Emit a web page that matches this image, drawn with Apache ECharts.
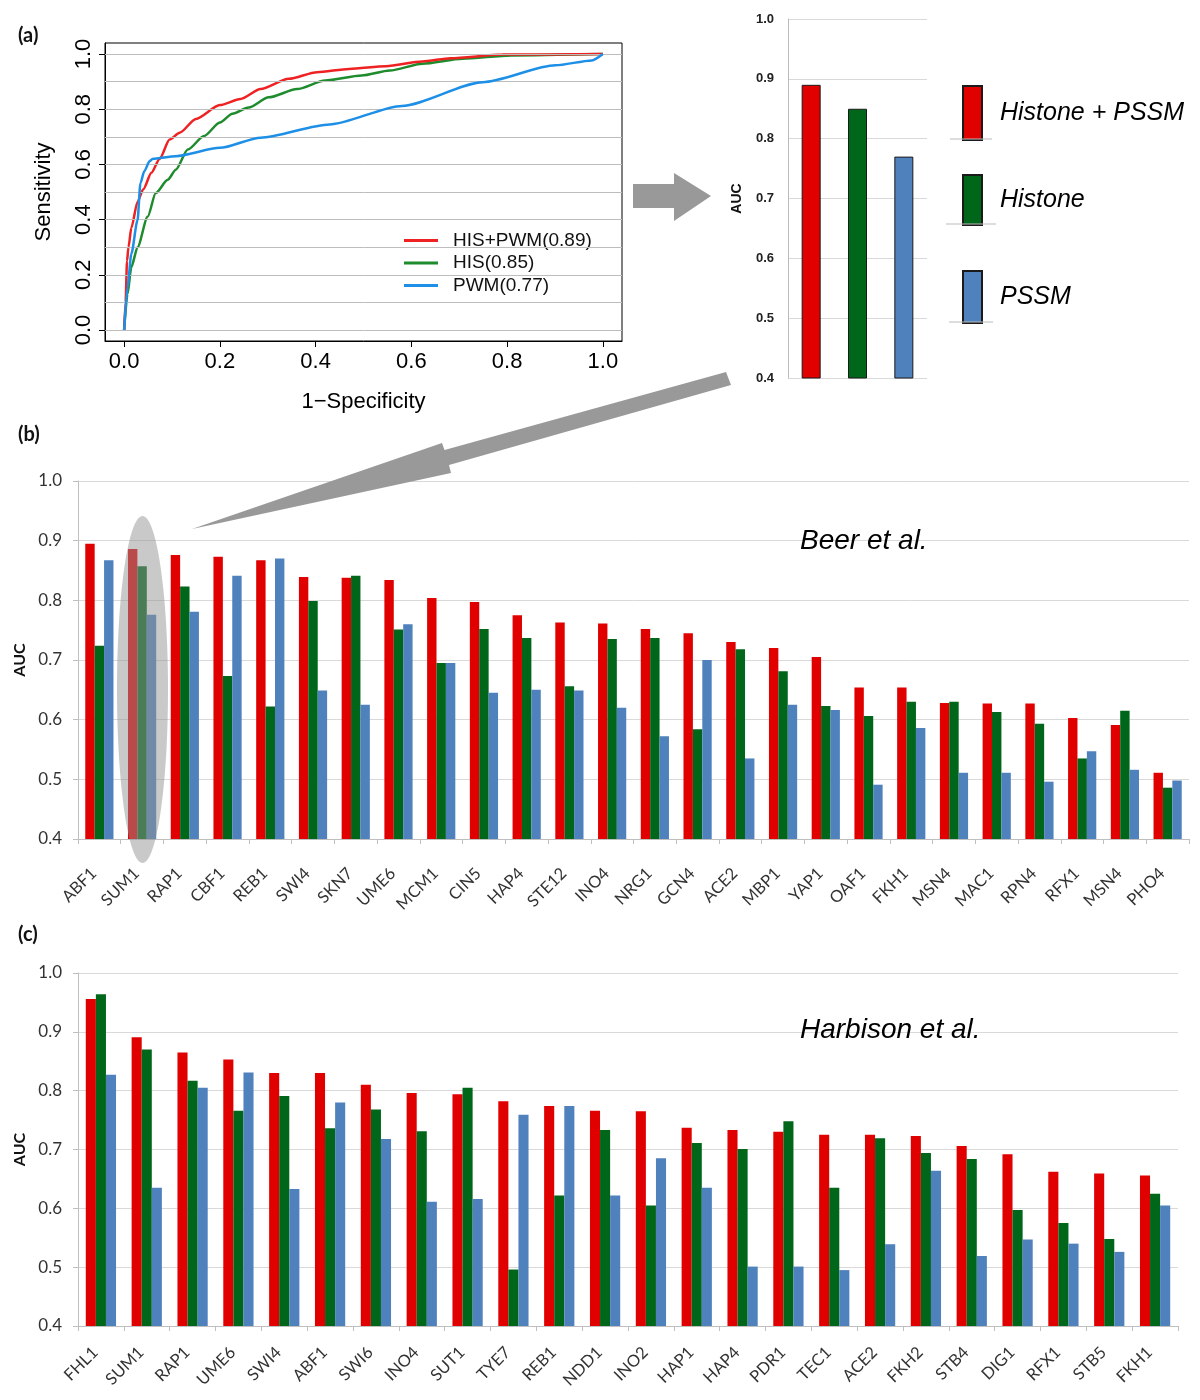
<!DOCTYPE html>
<html><head><meta charset="utf-8">
<script src="https://cdn.jsdelivr.net/npm/echarts@6/dist/echarts.min.js"></script>
<style>html,body{margin:0;padding:0;background:#fff}#c{width:1200px;height:1400px}</style>
</head><body><div id="c"></div>
<script>
// ---------- Panel (a) ROC curves ----------
const rocHisPwm = [[0,0],[0.003,0.1],[0.006,0.25],[0.009,0.3],[0.015,0.37],[0.028,0.465],[0.04,0.51],[0.057,0.57],[0.074,0.62],[0.095,0.69],[0.116,0.715],[0.15,0.765],[0.2,0.815],[0.243,0.837],[0.285,0.873],[0.344,0.91],[0.403,0.934],[0.47,0.946],[0.547,0.956],[0.623,0.973],[0.682,0.985],[0.79,0.998],[1,1]];
const rocHis = [[0,0],[0.007,0.13],[0.015,0.228],[0.028,0.3],[0.049,0.41],[0.066,0.496],[0.091,0.544],[0.108,0.581],[0.133,0.654],[0.167,0.703],[0.2,0.752],[0.226,0.784],[0.26,0.806],[0.302,0.843],[0.361,0.873],[0.42,0.904],[0.496,0.922],[0.555,0.94],[0.623,0.965],[0.707,0.983],[0.808,0.995],[1,1]];
const rocPwm = [[0,0],[0.007,0.155],[0.015,0.276],[0.028,0.398],[0.034,0.532],[0.042,0.575],[0.053,0.611],[0.059,0.62],[0.108,0.63],[0.2,0.66],[0.285,0.697],[0.429,0.745],[0.58,0.812],[0.749,0.898],[0.901,0.959],[0.977,0.977],[1,1]];
const rocNames = ['HIS+PWM(0.89)', 'HIS(0.85)', 'PWM(0.77)'];
const rocTicks = [0, 0.2, 0.4, 0.6, 0.8, 1.0];
const rocGridLines = [0, 0.1, 0.2, 0.3, 0.4, 0.5, 0.6, 0.7, 0.8, 0.9, 1.0];

// ---------- Panel (a) summary AUC bars ----------
const summaryNames = ['Histone + PSSM', 'Histone', 'PSSM'];
const summaryAuc = [0.89, 0.85, 0.77];

// ---------- Panel (b) Beer et al. ----------
const beerCats = ['ABF1','SUM1','RAP1','CBF1','REB1','SWI4','SKN7','UME6','MCM1','CIN5','HAP4','STE12','INO4','NRG1','GCN4','ACE2','MBP1','YAP1','OAF1','FKH1','MSN4','MAC1','RPN4','RFX1','MSN4','PHO4'];
const beerHisPssm = [0.895,0.886,0.876,0.873,0.867,0.839,0.838,0.834,0.804,0.797,0.775,0.763,0.761,0.752,0.745,0.730,0.720,0.705,0.654,0.654,0.628,0.627,0.627,0.603,0.591,0.511];
const beerHis     = [0.724,0.857,0.823,0.673,0.622,0.799,0.841,0.751,0.695,0.752,0.737,0.656,0.735,0.737,0.584,0.718,0.681,0.623,0.606,0.630,0.630,0.613,0.593,0.535,0.615,0.486];
const beerPssm    = [0.867,0.776,0.781,0.841,0.870,0.649,0.625,0.760,0.695,0.645,0.650,0.649,0.620,0.572,0.700,0.535,0.625,0.616,0.491,0.586,0.511,0.511,0.496,0.547,0.516,0.498];

// ---------- Panel (c) Harbison et al. ----------
const harbCats = ['FHL1','SUM1','RAP1','UME6','SWI4','ABF1','SWI6','INO4','SUT1','TYE7','REB1','NDD1','INO2','HAP1','HAP4','PDR1','TEC1','ACE2','FKH2','STB4','DIG1','RFX1','STB5','FKH1'];
const harbHisPssm = [0.956,0.891,0.865,0.853,0.830,0.830,0.810,0.796,0.794,0.782,0.774,0.766,0.765,0.737,0.733,0.730,0.725,0.725,0.723,0.706,0.692,0.662,0.659,0.656];
const harbHis     = [0.964,0.870,0.817,0.766,0.791,0.736,0.768,0.731,0.805,0.496,0.622,0.733,0.605,0.711,0.701,0.748,0.635,0.719,0.694,0.684,0.597,0.575,0.548,0.625];
const harbPssm    = [0.827,0.635,0.805,0.831,0.633,0.780,0.718,0.611,0.616,0.759,0.774,0.622,0.685,0.635,0.501,0.501,0.495,0.539,0.664,0.519,0.547,0.540,0.526,0.605];

const aucTicks = {min: 0.4, max: 1.0, interval: 0.1};

const RED = '#E00000', GREEN = '#00661A', BLUE = '#4F81BD';
const ROC_RED = '#EE2222', ROC_GREEN = '#1E8C2C', ROC_BLUE = '#1E8FE6';
const SANS = '"Liberation Sans", Arial, sans-serif';
const XL = 'Lato, "Open Sans", sans-serif';

const chart = echarts.init(document.getElementById('c'), null, {renderer: 'canvas'});

function excelX(gridIndex, cats, margin) {
  return {
    type: 'category', gridIndex, data: cats,
    axisLine: {show: true, lineStyle: {color: '#BFBFBF'}},
    axisTick: {show: true, length: 5, lineStyle: {color: '#BFBFBF'}},
    axisLabel: {interval: 0, rotate: 45, fontSize: 16.5, color: '#333', fontFamily: XL, margin, padding: [0, 8, 0, 0]},
    splitLine: {show: false}
  };
}
function excelY(gridIndex, nameGap) {
  return {
    type: 'value', gridIndex, min: aucTicks.min, max: aucTicks.max, interval: aucTicks.interval,
    name: 'AUC', nameLocation: 'middle', nameGap,
    nameTextStyle: {fontFamily: XL, fontWeight: 'bold', fontSize: 16, color: '#111'},
    axisLine: {show: true, lineStyle: {color: '#BFBFBF'}},
    axisTick: {show: true, length: 5, lineStyle: {color: '#BFBFBF'}},
    axisLabel: {fontSize: 17, color: '#333', fontFamily: XL, margin: 16, formatter: v => v.toFixed(1)},
    splitLine: {show: true, lineStyle: {color: '#D9D9D9', width: 1}}
  };
}
function barSeries(name, data, color, xi, yi) {
  return {
    type: 'bar', name, data, xAxisIndex: xi, yAxisIndex: yi,
    barGap: 0, barCategoryGap: '34%',
    itemStyle: {color}, emphasis: {disabled: true}
  };
}

const summarySeries = summaryNames.map((n, k) => ({
  type: 'bar', name: n, xAxisIndex: 1, yAxisIndex: 1,
  data: summaryAuc.map((v, i) => i === k ? v : '-'),
  barWidth: 19, barGap: '-100%',
  itemStyle: {color: [RED, GREEN, BLUE][k], borderColor: '#1a1a1a', borderWidth: 1},
  emphasis: {disabled: true}
}));

function summaryLegend(name, top, h) {
  return {
    data: [name], left: 962, top, orient: 'vertical', padding: 0,
    itemWidth: 19, itemHeight: h, icon: 'rect', selectedMode: false,
    textStyle: {fontSize: 25, fontStyle: 'italic', fontFamily: SANS, color: '#000', padding: [0, 0, 0, 13]}
  };
}

function rocLine(name, data, color, z) {
  return {type: 'line', name, data, xAxisIndex: 0, yAxisIndex: 0, showSymbol: false, symbol: 'none',
    smooth: 0.25, smoothMonotone: 'x',
    lineStyle: {color, width: 2.5}, itemStyle: {color}, z, emphasis: {disabled: true}};
}

const option = {
  animation: false,
  backgroundColor: '#fff',
  grid: [
    {left: 105, top: 43, width: 517, height: 298, show: true, borderColor: '#000', borderWidth: 1, backgroundColor: 'transparent'},
    {left: 788, top: 19, width: 139, height: 359},
    {left: 78, top: 481, width: 1111, height: 358},
    {left: 78, top: 973, width: 1100, height: 353}
  ],
  legend: [
    {data: rocNames, left: 404, top: 231, orient: 'vertical', padding: 0, itemGap: 3.5,
     itemWidth: 34, itemHeight: 3, icon: 'rect', selectedMode: false,
     textStyle: {fontSize: 19, fontFamily: SANS, color: '#111', padding: [0, 0, 0, 10]}},
    summaryLegend(summaryNames[0], 85, 54),
    summaryLegend(summaryNames[1], 174, 50),
    summaryLegend(summaryNames[2], 270, 52)
  ],
  xAxis: [
    {type: 'value', gridIndex: 0, min: -0.04, max: 1.04,
     name: '1\u2212Specificity', nameLocation: 'middle', nameGap: 50,
     nameTextStyle: {fontFamily: SANS, fontSize: 22, color: '#000'},
     axisLine: {show: true, onZero: false, lineStyle: {color: '#000'}},
     axisTick: {show: true, customValues: rocTicks, length: 6, lineStyle: {color: '#000'}},
     axisLabel: {customValues: rocTicks, fontFamily: SANS, fontSize: 22, color: '#000', margin: 10, formatter: v => v.toFixed(1)},
     splitLine: {show: false}},
    {type: 'category', gridIndex: 1, data: summaryNames,
     axisLine: {show: false}, axisTick: {show: false}, axisLabel: {show: false}, splitLine: {show: false}},
    excelX(2, beerCats, 26),
    excelX(3, harbCats, 18)
  ],
  yAxis: [
    {type: 'value', gridIndex: 0, min: -0.04, max: 1.04,
     name: 'Sensitivity', nameLocation: 'middle', nameGap: 50,
     nameTextStyle: {fontFamily: SANS, fontSize: 22, color: '#000'},
     axisLine: {show: true, onZero: false, lineStyle: {color: '#000'}},
     axisTick: {show: true, customValues: rocTicks, length: 6, lineStyle: {color: '#000'}},
     axisLabel: {customValues: rocTicks, rotate: 90, fontFamily: SANS, fontSize: 22, color: '#000', margin: 10, formatter: v => v.toFixed(1)},
     splitLine: {show: false}},
    {type: 'value', gridIndex: 1, min: aucTicks.min, max: aucTicks.max, interval: aucTicks.interval,
     name: 'AUC', nameLocation: 'middle', nameGap: 44,
     nameTextStyle: {fontFamily: SANS, fontWeight: 'bold', fontSize: 14, color: '#111'},
     axisLine: {show: true, lineStyle: {color: '#BBBBBB'}},
     axisTick: {show: false},
     axisLabel: {fontFamily: SANS, fontWeight: 'bold', fontSize: 13, color: '#222', margin: 14, formatter: v => v.toFixed(1)},
     splitLine: {show: true, lineStyle: {color: '#D9D9D9'}}},
    excelY(2, 50),
    excelY(3, 46)
  ],
  series: [
    {type: 'line', name: 'gridlines', xAxisIndex: 0, yAxisIndex: 0, data: [], z: 1, silent: true,
     markLine: {silent: true, symbol: ['none', 'none'], label: {show: false},
       lineStyle: {color: '#BDBDBD', type: 'solid', width: 1},
       data: rocGridLines.map(v => ({yAxis: v}))}},
    rocLine(rocNames[0], rocHisPwm, ROC_RED, 4),
    rocLine(rocNames[1], rocHis, ROC_GREEN, 3),
    rocLine(rocNames[2], rocPwm, ROC_BLUE, 5),
    ...summarySeries,
    barSeries('Beer Histone + PSSM', beerHisPssm, RED, 2, 2),
    barSeries('Beer Histone', beerHis, GREEN, 2, 2),
    barSeries('Beer PSSM', beerPssm, BLUE, 2, 2),
    barSeries('Harbison Histone + PSSM', harbHisPssm, RED, 3, 3),
    barSeries('Harbison Histone', harbHis, GREEN, 3, 3),
    barSeries('Harbison PSSM', harbPssm, BLUE, 3, 3)
  ],
  graphic: [
    {type: 'text', z: 100, style: {text: '(a)', x: 18, y: 36, font: 'bold 20px Lato', fill: '#111', verticalAlign: 'middle'}},
    {type: 'text', z: 100, style: {text: '(b)', x: 18, y: 435, font: 'bold 20px Lato', fill: '#111', verticalAlign: 'middle'}},
    {type: 'text', z: 100, style: {text: '(c)', x: 18, y: 935, font: 'bold 20px Lato', fill: '#111', verticalAlign: 'middle'}},
    {type: 'text', z: 100, style: {text: 'Beer et al.', x: 800, y: 541, font: 'italic 28px "Liberation Sans"', fill: '#000', verticalAlign: 'middle'}},
    {type: 'text', z: 100, style: {text: 'Harbison et al.', x: 800, y: 1030, font: 'italic 28px "Liberation Sans"', fill: '#000', verticalAlign: 'middle'}},
    {type: 'line', z: 100, shape: {x1: 950, y1: 139, x2: 992, y2: 139}, style: {stroke: '#BBBBBB', lineWidth: 1}},
    {type: 'line', z: 100, shape: {x1: 946, y1: 224, x2: 996, y2: 224}, style: {stroke: '#BBBBBB', lineWidth: 1}},
    {type: 'line', z: 100, shape: {x1: 949, y1: 322, x2: 993, y2: 322}, style: {stroke: '#BBBBBB', lineWidth: 1}},
    {type: 'polygon', z: 100, shape: {points: [[633,184],[674,184],[674,173],[711,196],[674,221],[674,208],[633,208]]}, style: {fill: '#999999'}},
    {type: 'polygon', z: 100, shape: {points: [[726,372],[444.5,450],[442,443],[192,529],[451,473],[449,465],[731,385]]}, style: {fill: '#999999'}},
    {type: 'ellipse', z: 100, shape: {cx: 142.5, cy: 689.5, rx: 25.5, ry: 173.5}, style: {fill: 'rgba(148,148,148,0.5)'}}
  ]
};
chart.setOption(option);
</script>
</body></html>
